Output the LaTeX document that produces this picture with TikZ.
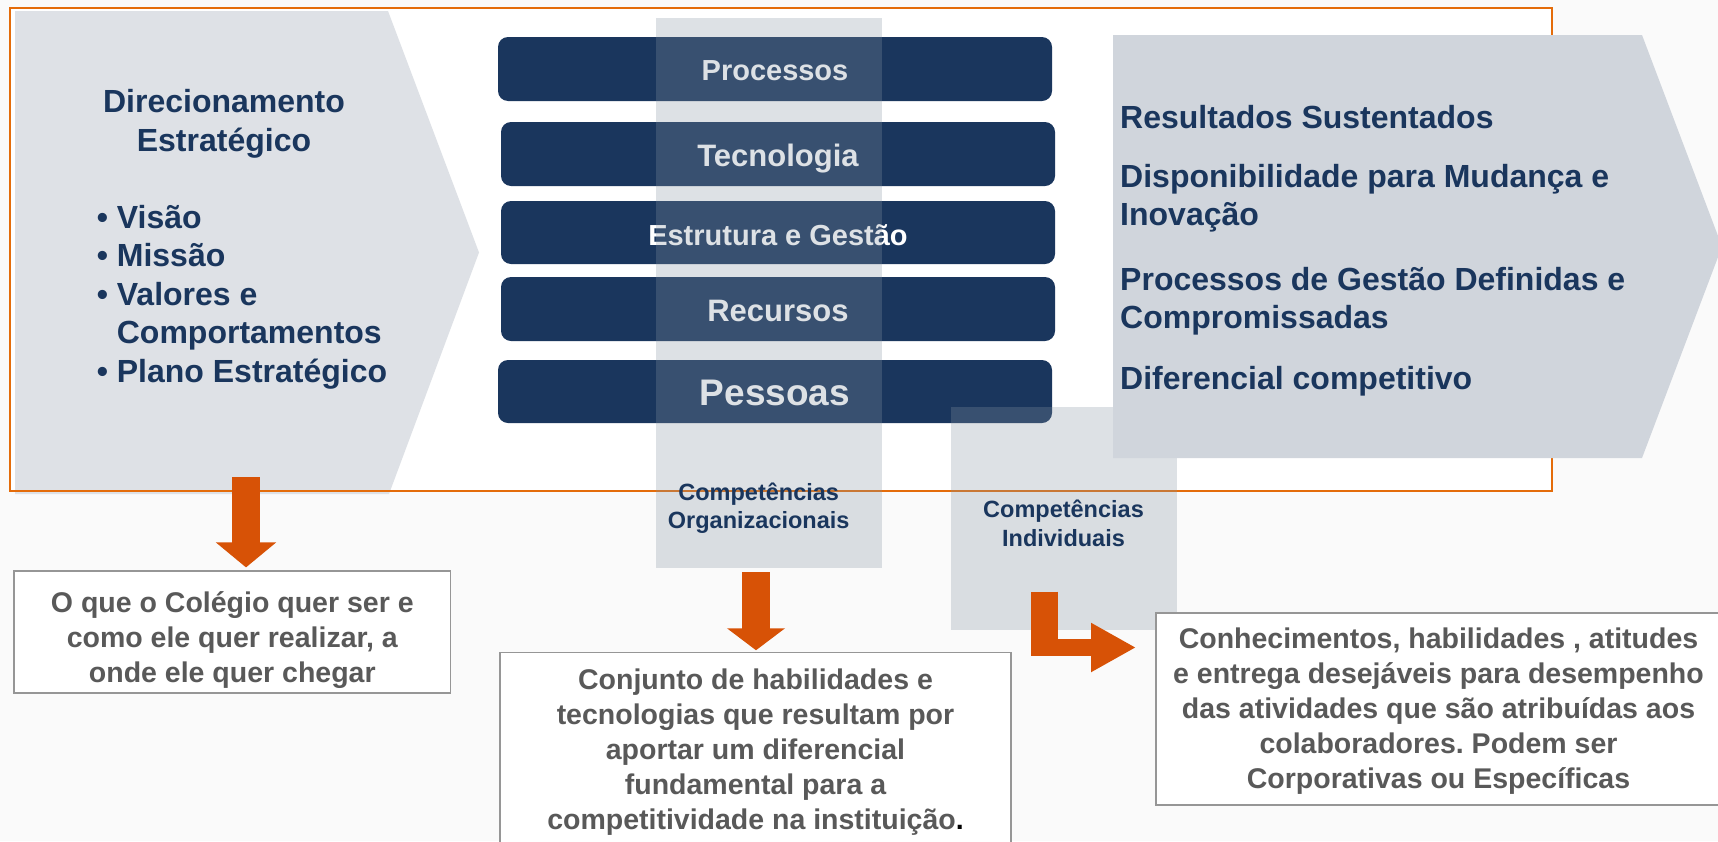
\documentclass[tikz,border=0pt]{standalone}
\usepackage{fontspec}
\setmainfont{Liberation Sans}
\usepackage{xcolor}
\usetikzlibrary{arrows.meta,positioning}
\frenchspacing

\definecolor{navy}{RGB}{26,54,93}
\definecolor{chevleftc}{RGB}{222,225,230}
\definecolor{chevrightc}{RGB}{208,213,220}
\definecolor{colgray}{RGB}{134,148,162}
\definecolor{arrowc}{RGB}{215,82,6}
\definecolor{framec}{RGB}{228,108,10}
\definecolor{boxline}{RGB}{150,150,150}
\definecolor{boxtext}{RGB}{89,89,89}
\definecolor{slidebg}{RGB}{250,250,250}

\tikzset{
  bar/.style 2 args={fill=navy, rounded corners=10pt, minimum width=554pt, minimum height=64pt, inner sep=0pt, text=white, text height=#2, text depth=0pt, font=\bfseries\fontsize{#1}{#1}\selectfont},
  colbox/.style={fill=colgray, fill opacity=.28, minimum width=226pt, inner sep=0pt},
  chevtext/.style={text=navy, inner sep=0pt, font=\bfseries\fontsize{32}{#1}\selectfont},
  collabel/.style={text=navy, inner sep=0pt, align=center, anchor=north, font=\bfseries\fontsize{23.5}{#1}\selectfont},
  infobox/.style={draw=boxline, line width=1.5pt, fill=white, text=boxtext, align=center, inner sep=0pt, font=\bfseries\fontsize{28.5}{35}\selectfont},
  blockarrow/.style={draw=arrowc, line width=#1}
}

\begin{document}
\begin{tikzpicture}[x=1pt, y=-1pt]
    \fill[slidebg] (0,0) rectangle (1718,841);
    \useasboundingbox (0,0) rectangle (1718,841);

    % frame and left chevron
    \fill[white] (10,7.5) rectangle (1551.5,490.5);
    \fill[chevleftc] (15,11) -- (388,11) -- (479,252.5) -- (389,494) -- (15,494) -- cycle;
    \draw[framec, line width=2pt] (10,7.5) rectangle (1551.5,490.5);

    \node[chevtext=39.5, align=center, anchor=north] (direc) at (224,89) {Direcionamento\\Estratégico};
    \node[chevtext=38.5, align=left, anchor=north west] (itens) at (96.6,205) {• Visão\\• Missão\\• Valores e\\\hphantom{•} Comportamentos\\• Plano Estratégico};

    % bars
    \node[bar={29}{23.4pt}] (processos) at (775,69) {Processos};
    \node[bar={31}{25.4pt}] (tecnologia) at (778,154) {Tecnologia};
    \node[bar={29}{25.5pt}, minimum height=63pt] (estrutura) at (778,232.5) {Estrutura e Gestão};
    \node[bar={31}{25.8pt}] (recursos) at (778,309) {Recursos};
    \node[bar={37}{28.7pt}, minimum height=63pt] (pessoas) at (775,391.5) {Pessoas};

    % competence columns
    \node[colbox, minimum height=550pt] (orgcol) at (769,293) {};
    \node[colbox, minimum height=223pt] (indcol) at (1064,518.5) {};

    % right chevron
    \fill[chevrightc] (1113,35) -- (1642,35) -- (1722,246.5) -- (1642,458) -- (1113,458) -- cycle;

    \node[chevtext=38.4, anchor=north west] (res1) at (1120,105) {Resultados Sustentados};
    \node[chevtext=38.4, anchor=north west, align=left] (res2) at (1120,164) {Disponibilidade para Mudança e\\Inovação};
    \node[chevtext=38.4, anchor=north west, align=left] (res3) at (1120,267) {Processos de Gestão Definidas e\\Compromissadas};
    \node[chevtext=38.4, anchor=north west] (res4) at (1120,366) {Diferencial competitivo};

    \node[collabel=28] (orglabel) at (758.7,483) {Competências\\Organizacionais};
    \node[collabel=29] (indlabel) at (1063.5,500) {Competências\\Individuais};

    % description boxes
    \node[infobox, minimum width=436.7pt, minimum height=122.3pt] (box1) at (232.3,632) {\rule{0pt}{36.4pt}O que o Colégio quer ser e\\como ele quer realizar, a\\onde ele quer chegar};
    \node[infobox, minimum width=511pt, minimum height=196.6pt] (box2) at (755.5,751) {\rule{0pt}{22.8pt}Conjunto de habilidades e\\tecnologias que resultam por\\aportar um diferencial\\fundamental para a\\competitividade na instituição{\color{black}.}};
    \node[infobox, minimum width=565pt, minimum height=192.3pt] (box3) at (1438.5,708.9) {\rule{0pt}{24.8pt}Conhecimentos, habilidades , atitudes\\e entrega desejáveis para desempenho\\das atividades que são atribuídas aos\\colaboradores. Podem ser\\Corporativas ou Específicas};

    % arrows
    \coordinate (a1) at (246,477);
    \coordinate (a2) at (756,572);
    \coordinate (a3) at (1044.5,591.5);
    \coordinate (a3b) at (1044.5,656);
    \coordinate (a3c) at (1031,647.5);
    \coordinate (a3t) at (1136,647.5);
    \draw[blockarrow=28pt, -{Triangle[width=59pt,length=25pt]}, shorten >=2.7pt] (a1) -- (a1 |- box1.north);
    \draw[blockarrow=28pt, -{Triangle[width=57pt,length=22pt]}, shorten >=1.7pt] (a2) -- (a2 |- box2.north);
    \draw[blockarrow=27pt] (a3) -- (a3b);
    \draw[blockarrow=17pt, -{Triangle[width=46pt,length=45pt]}] (a3c) -- (a3t);
\end{tikzpicture}
\end{document}
